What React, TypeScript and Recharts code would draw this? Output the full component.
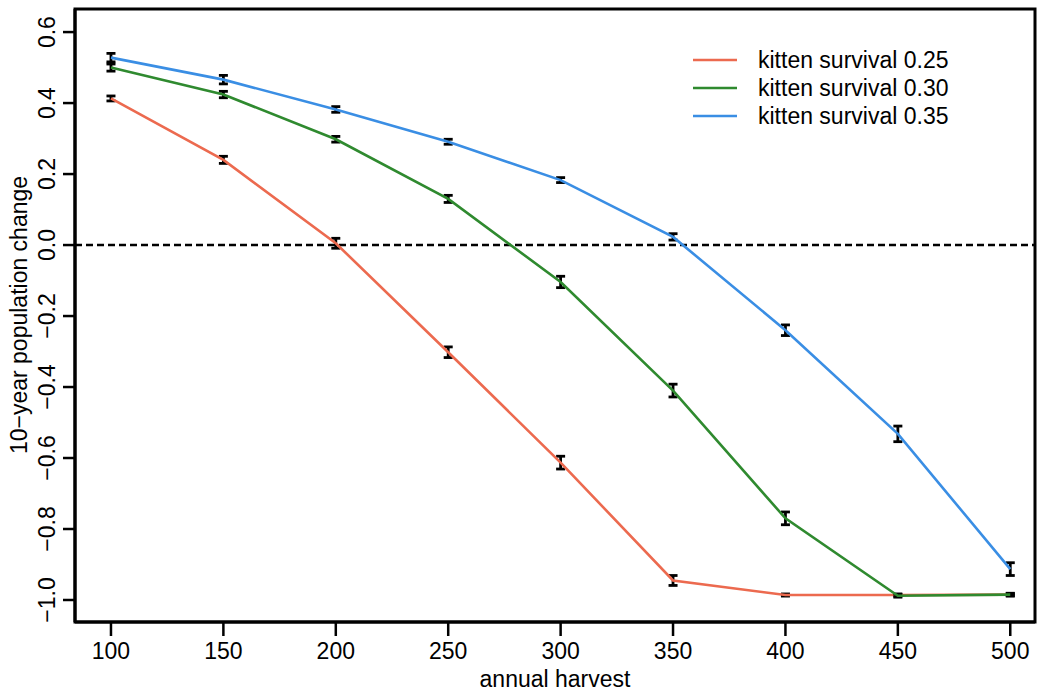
import React from 'react';
import { LineChart, Line, XAxis, YAxis, ErrorBar, ReferenceLine, ReferenceArea } from 'recharts';

const harvest = [100, 150, 200, 250, 300, 350, 400, 450, 500];
const surv25 = [0.413, 0.24, 0.005, -0.302, -0.613, -0.945, -0.986, -0.986, -0.985];
const surv25Err = [0.007, 0.01, 0.014, 0.015, 0.018, 0.014, 0.003, 0.003, 0.003];
const surv30 = [0.5, 0.424, 0.298, 0.13, -0.104, -0.41, -0.77, -0.988, -0.985];
const surv30Err = [0.01, 0.009, 0.008, 0.01, 0.016, 0.018, 0.018, 0.004, 0.004];
const surv35 = [0.528, 0.466, 0.382, 0.291, 0.183, 0.023, -0.24, -0.532, -0.913];
const surv35Err = [0.012, 0.012, 0.008, 0.007, 0.007, 0.009, 0.015, 0.022, 0.018];

const xTicks = [100, 150, 200, 250, 300, 350, 400, 450, 500];
const yTicks = [-1.0, -0.8, -0.6, -0.4, -0.2, 0.0, 0.2, 0.4, 0.6];
const seriesNames = ['kitten survival 0.25', 'kitten survival 0.30', 'kitten survival 0.35'];
const colors = ['#EC6A4F', '#2F8A2F', '#3A8EE4'];

const data = harvest.map((h, i) => ({
  harvest: h,
  s25: surv25[i], e25: surv25Err[i],
  s30: surv30[i], e30: surv30Err[i],
  s35: surv35[i], e35: surv35Err[i],
}));

const FONT = '"Liberation Sans", Arial, sans-serif';
const FS = 23;
const fmt = (v: number) => {
  const s = Math.abs(v).toFixed(1);
  return v < -1e-9 ? '\u2212' + s : s;
};

const YTick = (props: any) => {
  const { y, payload } = props;
  return (
    <text x={55} y={y} transform={`rotate(-90, 55, ${y})`} textAnchor="middle" fontSize={FS} fontFamily={FONT} fill="#000">
      {fmt(payload.value)}
    </text>
  );
};

const XTick = (props: any) => {
  const { x, payload } = props;
  return (
    <text x={x} y={659} textAnchor="middle" fontSize={FS} fontFamily={FONT} fill="#000">
      {payload.value}
    </text>
  );
};

export default function App() {
  return (
    <div style={{ position: 'absolute', left: 0, top: 0, width: 1039, height: 692, background: '#fff' }}>
      <LineChart width={1039} height={692} data={data} margin={{ top: 9, right: 4, left: 0, bottom: 0 }}>
        <XAxis
          dataKey="harvest"
          type="number"
          domain={[84, 511]}
          ticks={xTicks}
          allowDataOverflow
          height={70}
          tickSize={14}
          axisLine={{ stroke: '#000', strokeWidth: 3 }}
          tickLine={{ stroke: '#000', strokeWidth: 2.5 }}
          tick={<XTick />}
        />
        <YAxis
          type="number"
          domain={[-1.062, 0.665]}
          ticks={yTicks}
          allowDataOverflow
          width={75}
          tickSize={12}
          axisLine={{ stroke: '#000', strokeWidth: 3 }}
          tickLine={{ stroke: '#000', strokeWidth: 2.5 }}
          tick={<YTick />}
        />
        <ReferenceArea x1={84} x2={511} y1={-1.062} y2={0.665} fill="none" stroke="#000" strokeWidth={3} ifOverflow="visible" />
        <ReferenceLine y={0} stroke="#000" strokeWidth={2.5} strokeDasharray="7 4" />
        <Line dataKey="s25" stroke={colors[0]} strokeWidth={2.6} dot={false} isAnimationActive={false}>
          <ErrorBar dataKey="e25" width={4.5} stroke="#000" strokeWidth={2.8} direction="y" />
        </Line>
        <Line dataKey="s30" stroke={colors[1]} strokeWidth={2.6} dot={false} isAnimationActive={false}>
          <ErrorBar dataKey="e30" width={4.5} stroke="#000" strokeWidth={2.8} direction="y" />
        </Line>
        <Line dataKey="s35" stroke={colors[2]} strokeWidth={2.6} dot={false} isAnimationActive={false}>
          <ErrorBar dataKey="e35" width={4.5} stroke="#000" strokeWidth={2.8} direction="y" />
        </Line>
      </LineChart>
      <svg width={1039} height={692} style={{ position: 'absolute', left: 0, top: 0, pointerEvents: 'none' }}>
        <text x={555} y={687} textAnchor="middle" fontSize={FS} fontFamily={FONT} fill="#000">annual harvest</text>
        <text x={27} y={315} transform="rotate(-90, 27, 315)" textAnchor="middle" fontSize={FS} fontFamily={FONT} fill="#000">
          {'10\u2212year population change'}
        </text>
        {seriesNames.map((name, i) => (
          <g key={name}>
            <line x1={693} x2={737} y1={60 + i * 28} y2={60 + i * 28} stroke={colors[i]} strokeWidth={2.6} />
            <text x={758} y={60 + i * 28 + 8} fontSize={FS} fontFamily={FONT} fill="#000">{name}</text>
          </g>
        ))}
      </svg>
    </div>
  );
}
